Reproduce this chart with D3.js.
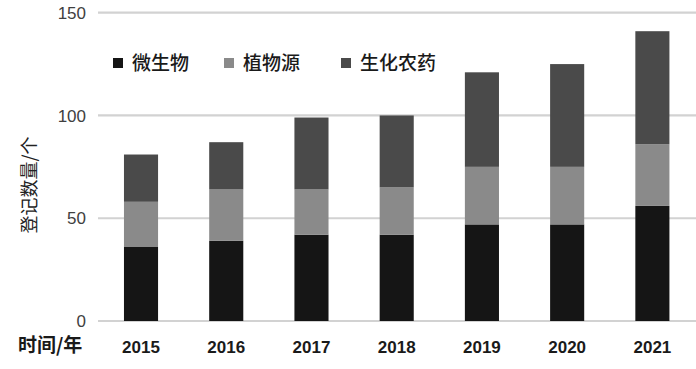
<!DOCTYPE html>
<html><head><meta charset="utf-8">
<script src="https://cdn.jsdelivr.net/npm/d3@7"></script>
<style>html,body{margin:0;padding:0;background:#fff;}svg{display:block;}</style>
</head><body>
<script>
const years = ["2015","2016","2017","2018","2019","2020","2021"];
const seriesNames = ["微生物","植物源","生化农药"];
const microbial = [36,39,42,42,47,47,56];
const botanical = [22,25,22,23,28,28,30];
const biochemical = [23,23,35,35,46,50,55];
const yTicks = [0,50,100,150];
const colors = ["#151515","#8a8a8a","#4a4a4a"];

const W=696,H=369;
const svg=d3.select("body").append("svg").attr("width",W).attr("height",H);
const x=d3.scaleBand().domain(years).range([98.4,695]).paddingInner(0.6).paddingOuter(0.3);
const y=d3.scaleLinear().domain([0,150]).range([321,12.7]);

const cnFont='"Noto Sans CJK SC", sans-serif';
const numFont='"Liberation Sans", Arial, sans-serif';

// gridlines
svg.append("g").selectAll("line").data(yTicks).join("line")
  .attr("x1",98).attr("x2",696).attr("y1",d=>y(d)).attr("y2",d=>y(d))
  .attr("stroke","#d2d2d2").attr("stroke-width",2.2);

// y tick labels
svg.append("g").selectAll("text").data(yTicks).join("text")
  .attr("x",86).attr("y",d=>y(d)).attr("dy","0.36em").attr("text-anchor","end")
  .attr("font-family",numFont).attr("font-size",17).attr("fill","#404040").text(d=>d);

// stacked data
const rows=years.map((yr,i)=>({year:yr,"微生物":microbial[i],"植物源":botanical[i],"生化农药":biochemical[i]}));
const stack=d3.stack().keys(seriesNames)(rows);
svg.append("g").selectAll("g").data(stack).join("g").attr("fill",(d,i)=>colors[i])
  .selectAll("rect").data(d=>d).join("rect")
  .attr("x",d=>x(d.data.year)).attr("width",x.bandwidth())
  .attr("y",d=>y(d[1])).attr("height",d=>y(d[0])-y(d[1]));

// x labels
svg.append("g").selectAll("text").data(years).join("text")
  .attr("x",d=>x(d)+x.bandwidth()/2).attr("y",347).attr("dy","0.36em").attr("text-anchor","middle")
  .attr("font-family",numFont).attr("font-weight","bold").attr("font-size",17).attr("fill","#1a1a1a").text(d=>d);

svg.append("text").attr("x",18).attr("y",345).attr("dy","0.36em")
  .attr("font-family",cnFont).attr("font-weight","bold").attr("font-size",19).attr("fill","#1a1a1a").text("时间/年");

// y title
svg.append("text").attr("transform","translate(30,185) rotate(-90)").attr("text-anchor","middle").attr("dy","0.36em")
  .attr("font-family",cnFont).attr("font-size",18).attr("fill","#222222").text("登记数量/个");

// legend
const legX=[113,224,341];
const lg=svg.append("g").selectAll("g").data(seriesNames).join("g")
  .attr("transform",(d,i)=>`translate(${legX[i]},63)`);
lg.append("rect").attr("x",0).attr("y",-5).attr("width",10).attr("height",10).attr("fill",(d,i)=>colors[i]);
lg.append("text").attr("x",19).attr("y",0).attr("dy","0.36em")
  .attr("font-family",cnFont).attr("font-weight",500).attr("font-size",19).attr("fill","#1a1a1a").text(d=>d);
</script>
</body></html>
